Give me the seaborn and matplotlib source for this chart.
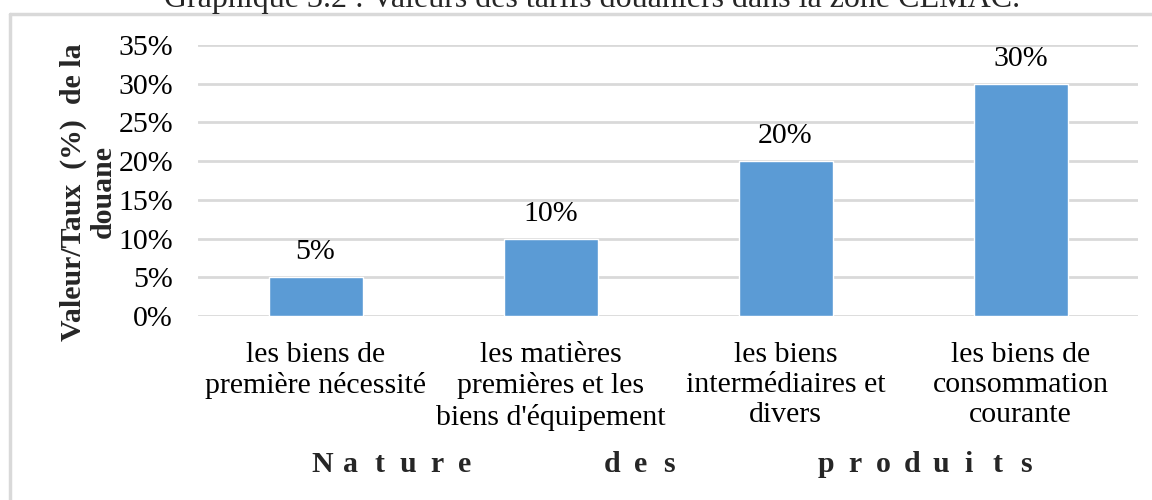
import matplotlib
matplotlib.use("Agg")
import matplotlib.pyplot as plt
from matplotlib.lines import Line2D
from matplotlib.ticker import FuncFormatter
import seaborn as sns
import pandas as pd

categories = [
    "les biens de\npremière nécessité",
    "les matières\npremières et les\nbiens d'équipement",
    "les biens\nintermédiaires et\ndivers",
    "les biens de\nconsommation\ncourante",
]
rates = [0.05, 0.10, 0.20, 0.30]
y_ticks = [0.00, 0.05, 0.10, 0.15, 0.20, 0.25, 0.30, 0.35]

title = "Graphique 3.2 : Valeurs des tarifs douaniers dans la zone CEMAC."
y_title = "Valeur/Taux  (%)  de la\ndouane"
x_title_words = ["Nature", "des", "produits"]

sns.set_theme(style="white")
plt.rcParams["font.family"] = ["Liberation Serif", "DejaVu Serif"]

W, H = 1152, 500
FS = 21.5
fig = plt.figure(figsize=(W / 100, H / 100), dpi=100)
ax = fig.add_axes([198 / W, 1 - 316 / H, (1138 - 198) / W, (316 - 45) / H])

df = pd.DataFrame({"cat": categories, "rate": rates})
sns.barplot(data=df, x="cat", y="rate", color="#5B9BD5", width=0.4,
            saturation=1, ax=ax, zorder=3)

ax.set_ylim(0, 0.35)
ax.set_yticks(y_ticks)
ax.yaxis.set_major_formatter(FuncFormatter(lambda v, p: f"{v * 100:.0f}%"))
ax.grid(axis="y", color="#D9D9D9", linewidth=2, zorder=0)
ax.grid(axis="x", visible=False)
for s in ax.spines.values():
    s.set_visible(False)
ax.tick_params(axis="y", length=0, pad=18, labelsize=FS, colors="black")
ax.tick_params(axis="x", length=0, pad=18.5, labelsize=FS, colors="black")
for lab in ax.get_xticklabels():
    lab.set_linespacing(1.22)
ax.set_xlabel("")
ax.set_ylabel("")

for cont in ax.containers:
    ax.bar_label(cont, labels=[f"{v * 100:.0f}%" for v in rates],
                 padding=8.5, fontsize=FS, color="black")

# Vertical axis title
fig.text(88 / W, 1 - 192 / H, y_title, rotation=90, ha="center", va="center",
         fontsize=FS, fontweight="bold", linespacing=1.15, multialignment="center")

# Letter-spaced horizontal axis title: one glyph per slot, fixed pitch
pitch = 28.6
word_starts = [322, 612, 826]
for word, x0 in zip(x_title_words, word_starts):
    for i, ch in enumerate(word):
        fig.text((x0 + i * pitch) / W, 1 - 465 / H, ch, ha="center", va="center",
                 fontsize=FS, fontweight="bold")

# Title partly above the frame
fig.text(592 / W, 1 - 7 / H, title, ha="center", va="baseline", fontsize=23)

# Chart frame (top and left edges)
frame_col = "#D9D9D9"
fig.add_artist(Line2D([10 / W, 1], [1 - 13.5 / H, 1 - 13.5 / H],
                      transform=fig.transFigure, color=frame_col, linewidth=2.5))
fig.add_artist(Line2D([10 / W, 10 / W], [0, 1 - 13.5 / H],
                      transform=fig.transFigure, color=frame_col, linewidth=2.5))

fig.savefig("out.png", dpi=100)
